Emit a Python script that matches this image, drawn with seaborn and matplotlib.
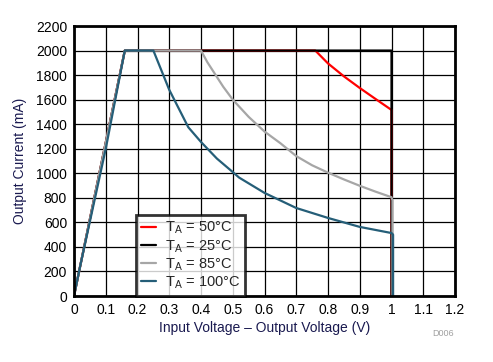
import pandas as pd
import matplotlib.pyplot as plt
import seaborn as sns

# values (V, mA)
v_50 = [0.0, 0.16, 0.76, 0.80, 0.85, 0.90, 0.95, 1.00, 1.00, 1.00]
i_50 = [0, 2000, 2000, 1895, 1790, 1695, 1605, 1516, 1330, 0]

v_25 = [0.0, 0.16, 1.00, 1.00]
i_25 = [0, 2000, 2000, 0]

v_85 = [0.0, 0.16, 0.40, 0.42, 0.47, 0.50, 0.55, 0.60, 0.65, 0.70, 0.75, 0.80, 0.85, 0.90, 0.95, 1.00, 1.003, 1.003]
i_85 = [0, 2000, 2000, 1905, 1705, 1600, 1460, 1340, 1245, 1140, 1065, 1005, 950, 898, 850, 805, 780, 0]

v_100 = [0.0, 0.02, 0.10, 0.16, 0.25, 0.30, 0.36, 0.40, 0.45, 0.50, 0.52, 0.60, 0.70, 0.80, 0.90, 1.00, 1.005, 1.005]
i_100 = [0, 250, 1200, 2000, 2000, 1680, 1375, 1255, 1120, 1010, 965, 840, 717, 636, 563, 513, 500, 0]

labels = ["T$_\\mathregular{A}$ = 50°C", "T$_\\mathregular{A}$ = 25°C",
          "T$_\\mathregular{A}$ = 85°C", "T$_\\mathregular{A}$ = 100°C"]
colors = ["#FF0000", "#000000", "#A6A6A6", "#255E78"]

rows = []
for lab, vs, cs in zip(labels, [v_50, v_25, v_85, v_100], [i_50, i_25, i_85, i_100]):
    for k, (v, c) in enumerate(zip(vs, cs)):
        rows.append({"series": lab, "order": k, "V": v, "I": c})
df = pd.DataFrame(rows)

sns.set_style("white")
plt.rcParams["font.family"] = ["Liberation Sans", "DejaVu Sans"]
plt.rcParams["mathtext.fontset"] = "custom"
plt.rcParams["mathtext.rm"] = "Liberation Sans"

fig = plt.figure(figsize=(4.93, 3.62), dpi=100)
ax = fig.add_axes([74 / 493, (362 - 296) / 362, 381 / 493, 270 / 362])

sns.lineplot(data=df, x="V", y="I", hue="series", palette=colors, hue_order=labels,
             sort=False, estimator=None, linewidth=1.6, ax=ax, legend=True)

ax.set_xlim(0, 1.2)
ax.set_ylim(0, 2200)
ax.set_xticks([i / 10 for i in range(13)])
ax.set_xticklabels(["0", "0.1", "0.2", "0.3", "0.4", "0.5", "0.6", "0.7", "0.8", "0.9", "1", "1.1", "1.2"])
ax.set_yticks(range(0, 2201, 200))
ax.grid(True, color="black", linewidth=0.9)
ax.set_axisbelow(True)
for s in ax.spines.values():
    s.set_color("black")
    s.set_linewidth(2)
ax.tick_params(axis="both", labelsize=10, length=0, pad=5, colors="black")
ax.set_xlabel("Input Voltage \u2013 Output Voltage (V)", fontsize=10, color="#1A1A50", labelpad=3)
ax.set_ylabel("Output Current (mA)", fontsize=10, color="#1A1A50", labelpad=6)

leg = ax.legend(loc="lower left", bbox_to_anchor=(0.163, 0.0), fontsize=10.5,
                frameon=True, fancybox=False, edgecolor="black", handlelength=1.0,
                borderpad=0.35, labelspacing=0.1, handletextpad=0.6, borderaxespad=0)
leg.get_frame().set_linewidth(2)

fig.text(443 / 493, 1 - 333 / 362, "D006", fontsize=6.5, color="#A0A0A0", ha="center", va="center")

plt.savefig("out.png", dpi=100)
